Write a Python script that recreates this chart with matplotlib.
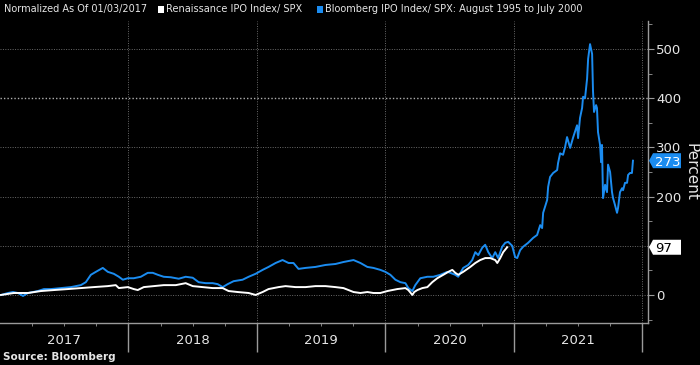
import numpy as np
import matplotlib
matplotlib.use('Agg')
import matplotlib.pyplot as plt
from matplotlib.patches import Polygon, Rectangle
from matplotlib.transforms import blended_transform_factory

# dates as decimal years, values in percent
ren_t = [2017.008, 2017.109, 2017.218, 2017.319, 2017.420, 2017.528, 2017.629, 2017.730,
         2017.839, 2017.901, 2017.925, 2017.995, 2018.041, 2018.072, 2018.119, 2018.197,
         2018.274, 2018.368, 2018.445, 2018.500, 2018.577, 2018.655, 2018.733, 2018.779,
         2018.849, 2018.935, 2018.989, 2019.044, 2019.090, 2019.168, 2019.222, 2019.300,
         2019.378, 2019.455, 2019.533, 2019.611, 2019.673, 2019.751, 2019.805, 2019.859,
         2019.906, 2019.960, 2020.015, 2020.092, 2020.155, 2020.178, 2020.209, 2020.224,
         2020.248, 2020.287, 2020.326, 2020.364, 2020.403, 2020.450, 2020.489, 2020.520,
         2020.543, 2020.566, 2020.605, 2020.660, 2020.699, 2020.737, 2020.776, 2020.815,
         2020.854, 2020.870, 2020.893, 2020.916, 2020.947]
ren_v = [0, 4, 4, 8, 10, 12, 14, 16,
         18, 20, 14, 16, 12, 10, 16, 18,
         20, 20, 24, 18, 16, 14, 14, 8,
         6, 4, 0, 6, 12, 16, 18, 16,
         16, 18, 18, 16, 14, 6, 4, 6,
         4, 4, 8, 12, 14, 10, 0, 6,
         10, 14, 16, 26, 34, 41, 47, 51,
         45, 41, 47, 57, 65, 71, 75, 75,
         71, 65, 75, 87, 97]

bbg_t = [2017.008, 2017.062, 2017.101, 2017.140, 2017.179, 2017.218, 2017.256, 2017.295,
         2017.342, 2017.396, 2017.474, 2017.552, 2017.629, 2017.668, 2017.707, 2017.746,
         2017.800, 2017.839, 2017.886, 2017.925, 2017.956, 2017.995, 2018.041, 2018.096,
         2018.150, 2018.189, 2018.228, 2018.274, 2018.329, 2018.391, 2018.445, 2018.500,
         2018.546, 2018.601, 2018.655, 2018.694, 2018.733, 2018.772, 2018.818, 2018.888,
         2018.935, 2018.989, 2019.044, 2019.090, 2019.145, 2019.199, 2019.246, 2019.284,
         2019.323, 2019.378, 2019.455, 2019.533, 2019.611, 2019.673, 2019.751, 2019.805,
         2019.859, 2019.906, 2019.960, 2019.999, 2020.038, 2020.077, 2020.116, 2020.155,
         2020.178, 2020.209, 2020.232, 2020.271, 2020.326, 2020.372, 2020.427, 2020.481,
         2020.504, 2020.543, 2020.566, 2020.605, 2020.644, 2020.675, 2020.699, 2020.722,
         2020.753, 2020.776, 2020.800, 2020.831, 2020.854, 2020.877, 2020.908, 2020.932,
         2020.955, 2020.986, 2021.009, 2021.025, 2021.048, 2021.071, 2021.110, 2021.149,
         2021.180, 2021.204, 2021.219, 2021.227, 2021.258, 2021.266, 2021.281, 2021.305,
         2021.336, 2021.343, 2021.359, 2021.382, 2021.398, 2021.413, 2021.437, 2021.460,
         2021.491, 2021.499, 2021.514, 2021.530, 2021.538, 2021.553, 2021.569, 2021.577,
         2021.592, 2021.608, 2021.615, 2021.623, 2021.639, 2021.646, 2021.654, 2021.670,
         2021.678, 2021.685, 2021.693, 2021.709, 2021.724, 2021.732, 2021.748, 2021.763,
         2021.771, 2021.786, 2021.802, 2021.810, 2021.825, 2021.841, 2021.849, 2021.864,
         2021.880, 2021.888, 2021.903, 2021.918, 2021.926]
bbg_v = [0, 4, 6, 4, -2, 4, 6, 8,
         12, 12, 14, 16, 20, 26, 41, 47,
         55, 47, 43, 37, 31, 34, 34, 37,
         45, 45, 41, 37, 36, 33, 37, 35,
         26, 24, 24, 22, 16, 22, 28, 31,
         37, 43, 51, 57, 65, 71, 65, 65,
         53, 55, 57, 61, 63, 67, 71, 65,
         57, 55, 51, 47, 41, 31, 26, 24,
         14, 8, 20, 34, 37, 37, 41, 47,
         45, 41, 37, 55, 61, 71, 87, 81,
         96, 102, 87, 75, 87, 75, 98, 106,
         108, 100, 77, 75, 91, 98, 106, 116,
         122, 142, 136, 167, 193, 220, 240, 248,
         254, 268, 288, 285, 301, 321, 299, 320,
         345, 319, 360, 380, 403, 400, 440, 480,
         510, 490, 415, 372, 386, 380, 331, 305,
         270, 305, 197, 224, 209, 265, 250, 209,
         197, 183, 167, 177, 209, 217, 213, 228,
         228, 244, 248, 248, 273]

years = [2017, 2018, 2019, 2020, 2021]
y_ticks = [0, 100, 200, 300, 400, 500]
y_labels = ['0', '', '200', '300', '400', '500']

blue = '#1b8cf0'
txt = '#e6e6e6'
grid_c = '#6a6a6a'
font = ['Liberation Sans Narrow', 'DejaVu Sans']
plt.rcParams['font.family'] = font

fig = plt.figure(figsize=(7, 3.65), dpi=100, facecolor='black')
ax = fig.add_axes([0.0, 1 - 323 / 365, 648 / 700, (323 - 21) / 365])
ax.set_facecolor('black')

ax.plot(bbg_t, bbg_v, color=blue, lw=1.4, zorder=3)
ax.plot(ren_t, ren_v, color='white', lw=1.4, zorder=4)

ax.set_xlim(2017.0, 2022.043)
ax.set_ylim(-57, 557)

# grid
for y in y_ticks:
    ax.axhline(y, color='#b0b0b0' if y == 400 else grid_c, lw=1.0 if y == 400 else 0.7,
               ls=(0, (1, 1.5)), zorder=1)
for yr in years[1:] + [2022]:
    ax.axvline(yr, color=grid_c, lw=0.7, ls=(0, (1, 1.5)), zorder=1)

for s in ['top', 'left']:
    ax.spines[s].set_visible(False)
for s in ['right', 'bottom']:
    ax.spines[s].set_color('#9a9a9a')
    ax.spines[s].set_linewidth(1.0)

ax.yaxis.tick_right()
ax.set_yticks(y_ticks)
ax.set_yticklabels(y_labels)
ax.set_yticks(np.arange(-50, 560, 100), minor=True)
ax.tick_params(axis='y', which='major', colors='#9a9a9a', labelcolor=txt, length=4,
               labelsize=9.5, pad=2)
ax.tick_params(axis='y', which='minor', colors='#9a9a9a', length=3)

ax.set_xticks(years[1:] + [2022])
ax.set_xticklabels([])
ax.set_xticks([y + q / 4 for y in years for q in (1, 2, 3)], minor=True)
ax.tick_params(axis='x', which='major', colors='#9a9a9a', length=21, width=1.0)
ax.tick_params(axis='x', which='minor', colors='#9a9a9a', length=2.5)

for yr in years:
    ax.text(yr + 0.5, 1 - 341 / 365, str(yr), transform=blended_transform_factory(ax.transData, fig.transFigure),
            ha='center', va='center', color=txt, fontsize=9.5)

fig.text(691 / 700, 1 - 172 / 365, 'Percent', rotation=-90, ha='center', va='center',
         color=txt, fontsize=11)

# value tags on the right
tr = blended_transform_factory(ax.transAxes, ax.transData)
px = 1 / 648
hh = 7.5 / 0.492
for val, fc, tc in [(273, blue, 'white'), (97, 'white', 'black')]:
    poly = Polygon([(1 + 1 * px, val), (1 + 5 * px, val + hh), (1 + 33 * px, val + hh),
                    (1 + 33 * px, val - hh), (1 + 5 * px, val - hh)],
                   closed=True, transform=tr, facecolor=fc, edgecolor='none',
                   clip_on=False, zorder=6)
    ax.add_patch(poly)
    ax.text(1 + 7 * px, val, str(val), transform=tr, ha='left', va='center_baseline',
            color=tc, fontsize=9.5, zorder=7, clip_on=False)

# header legend
ly = 1 - 9 / 365
fs = 7
fig.text(4 / 700, ly, 'Normalized As Of 01/03/2017', color=txt, fontsize=fs, va='center')
fig.patches.append(Rectangle((158 / 700, 1 - 13 / 365), 6 / 700, 7 / 365, transform=fig.transFigure,
                             facecolor='white', edgecolor='none'))
fig.text(166 / 700, ly, 'Renaissance IPO Index/ SPX', color=txt, fontsize=fs, va='center')
fig.patches.append(Rectangle((317 / 700, 1 - 13 / 365), 6 / 700, 7 / 365, transform=fig.transFigure,
                             facecolor=blue, edgecolor='none'))
fig.text(325 / 700, ly, 'Bloomberg IPO Index/ SPX: August 1995 to July 2000', color=txt,
         fontsize=fs, va='center')

fig.text(3 / 700, 1 - 357 / 365, 'Source: Bloomberg', color=txt, fontsize=7.5,
         fontweight='bold', va='center')

fig.savefig('out.png', dpi=100, facecolor='black')
